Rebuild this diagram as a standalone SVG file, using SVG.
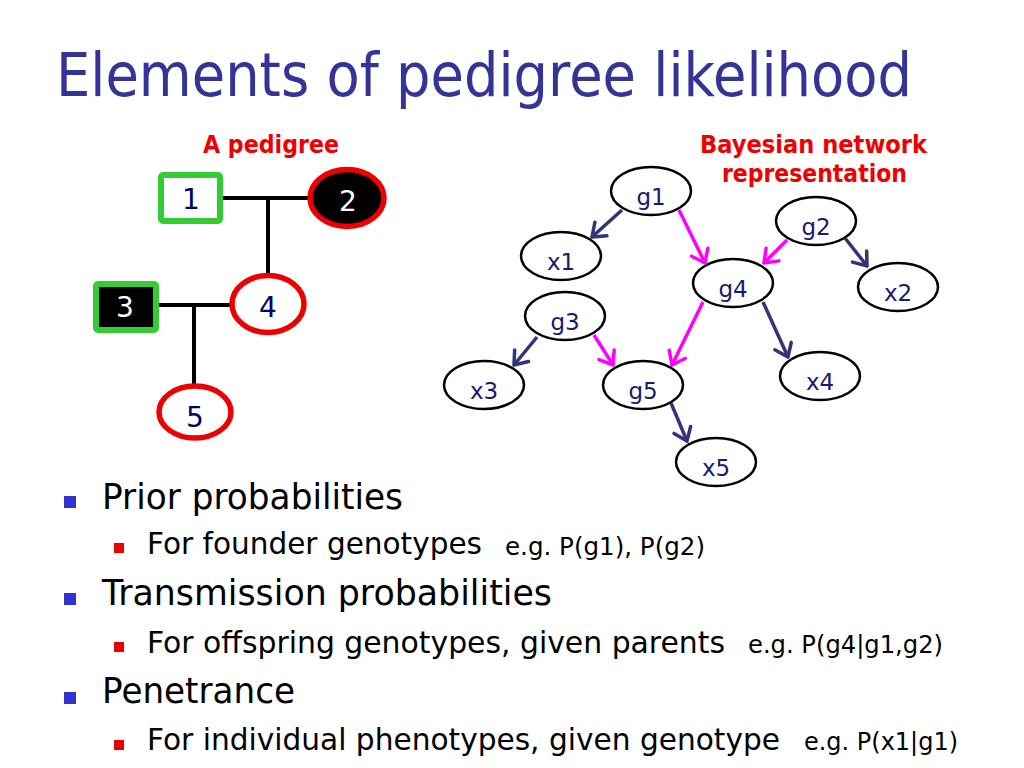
<svg xmlns="http://www.w3.org/2000/svg" width="1024" height="768" viewBox="0 0 1024 768">
<defs>
<style>
text{font-family:"DejaVu Sans","Liberation Sans",sans-serif}
.title{font-size:61px;fill:#333399}
.red{font-size:25px;font-weight:bold;fill:#ee0000}
.l1{font-size:35px;fill:#000}
.l2{font-size:31px;fill:#000}
.eg{font-size:24px;fill:#000}
.b1{fill:#3333cc}
.b2{fill:#ee0000}
.sq{stroke:#33cc33;stroke-width:6}
.pc{stroke:#ee0000;stroke-width:5.5}
.pl{stroke:#000;stroke-width:4;fill:none}
.pt{font-size:28px;text-anchor:middle}
.bn{fill:#fff;stroke:#000;stroke-width:2.5}
.bt{font-size:23px;fill:#1a1a70;text-anchor:middle}
.nv{stroke:#333377;stroke-width:3.5;fill:none;marker-end:url(#an)}
.mg{stroke:#ff00ff;stroke-width:3.5;fill:none;marker-end:url(#am)}
</style>
<marker id="an" viewBox="-15 -11 17 22" markerWidth="17" markerHeight="22" refX="0" refY="0" orient="auto" markerUnits="userSpaceOnUse"><path d="M-12,-9 L0,0 L-12,9" fill="none" stroke="#333377" stroke-width="3.5" stroke-linecap="round"/></marker>
<marker id="am" viewBox="-15 -11 17 22" markerWidth="17" markerHeight="22" refX="0" refY="0" orient="auto" markerUnits="userSpaceOnUse"><path d="M-12,-9 L0,0 L-12,9" fill="none" stroke="#ff00ff" stroke-width="3.5" stroke-linecap="round"/></marker>
</defs>
<rect width="1024" height="768" fill="#fff"/>
<text class="title" x="56" y="96" textLength="856" lengthAdjust="spacingAndGlyphs">Elements of pedigree likelihood</text>

<text class="red" x="203" y="153" textLength="136" lengthAdjust="spacingAndGlyphs">A pedigree</text>
<text class="red" x="700" y="153" textLength="227" lengthAdjust="spacingAndGlyphs">Bayesian network</text>
<text class="red" x="722" y="182" textLength="185" lengthAdjust="spacingAndGlyphs">representation</text>

<g id="pedigree-lines">
<path class="pl" d="M223,198 H310 M268,198 V273 M159,305 H231 M194,305 V385"/>
</g>
<g id="p1"><rect class="sq" x="161" y="175" width="59" height="46" rx="2" fill="#fff"/><text class="pt" x="191" y="209" fill="#000066">1</text></g>
<g id="p2"><ellipse class="pc" cx="347" cy="198" rx="37" ry="28.5" fill="#000"/><text class="pt" x="348" y="211" fill="#fff">2</text></g>
<g id="p3"><rect class="sq" x="96" y="284" width="60" height="46" rx="2" fill="#000"/><text class="pt" x="125" y="317" fill="#fff">3</text></g>
<g id="p4"><ellipse class="pc" cx="268" cy="304" rx="36" ry="28.5" fill="#fff"/><text class="pt" x="268" y="317" fill="#000066">4</text></g>
<g id="p5"><ellipse class="pc" cx="195" cy="412" rx="36" ry="26" fill="#fff"/><text class="pt" x="195" y="427" fill="#000066">5</text></g>

<g id="g1"><ellipse class="bn" cx="651" cy="191" rx="40" ry="24"/><text class="bt" x="651" y="205">g1</text></g>
<g id="g2"><ellipse class="bn" cx="816" cy="221" rx="40" ry="24"/><text class="bt" x="816" y="235">g2</text></g>
<g id="x1"><ellipse class="bn" cx="561" cy="256" rx="40" ry="24"/><text class="bt" x="561" y="270">x1</text></g>
<g id="g4"><ellipse class="bn" cx="733" cy="283" rx="40" ry="24"/><text class="bt" x="733" y="297">g4</text></g>
<g id="x2"><ellipse class="bn" cx="898" cy="287" rx="40" ry="24"/><text class="bt" x="898" y="301">x2</text></g>
<g id="g3"><ellipse class="bn" cx="565" cy="316" rx="40" ry="24"/><text class="bt" x="565" y="330">g3</text></g>
<g id="x3"><ellipse class="bn" cx="484" cy="385" rx="40" ry="24"/><text class="bt" x="484" y="399">x3</text></g>
<g id="g5"><ellipse class="bn" cx="643" cy="385" rx="40" ry="24"/><text class="bt" x="643" y="399">g5</text></g>
<g id="x4"><ellipse class="bn" cx="820" cy="376" rx="40" ry="24"/><text class="bt" x="820" y="390">x4</text></g>
<g id="x5"><ellipse class="bn" cx="716" cy="462" rx="40" ry="24"/><text class="bt" x="716" y="476">x5</text></g>

<g id="connectors">
<line class="nv" x1="622" y1="210" x2="592" y2="237"/>
<line class="mg" x1="679" y1="210" x2="705" y2="263"/>
<line class="mg" x1="787" y1="240" x2="764" y2="263"/>
<line class="nv" x1="845" y1="238" x2="867" y2="266"/>
<line class="mg" x1="703" y1="302" x2="672" y2="365"/>
<line class="nv" x1="763" y1="302" x2="788" y2="357"/>
<line class="nv" x1="537" y1="337" x2="514" y2="365"/>
<line class="mg" x1="594" y1="335" x2="613" y2="365"/>
<line class="nv" x1="671" y1="403" x2="687" y2="441"/>
</g>

<g id="bullets">
<rect class="b1" x="64" y="496" width="12" height="12"/>
<text class="l1" x="102" y="509" textLength="301" lengthAdjust="spacingAndGlyphs">Prior probabilities</text>
<rect class="b2" x="114" y="543" width="10" height="10"/>
<text class="l2" x="147" y="554" textLength="335" lengthAdjust="spacingAndGlyphs">For founder genotypes</text>
<text class="eg" x="505" y="555" textLength="200" lengthAdjust="spacingAndGlyphs">e.g. P(g1), P(g2)</text>
<rect class="b1" x="64" y="593" width="12" height="12"/>
<text class="l1" x="102" y="605" textLength="450" lengthAdjust="spacingAndGlyphs">Transmission probabilities</text>
<rect class="b2" x="114" y="642" width="10" height="10"/>
<text class="l2" x="147" y="653" textLength="578" lengthAdjust="spacingAndGlyphs">For offspring genotypes, given parents</text>
<text class="eg" x="748" y="653" textLength="195" lengthAdjust="spacingAndGlyphs">e.g. P(g4|g1,g2)</text>
<rect class="b1" x="64" y="692" width="12" height="12"/>
<text class="l1" x="102" y="703" textLength="193" lengthAdjust="spacingAndGlyphs">Penetrance</text>
<rect class="b2" x="114" y="740" width="10" height="10"/>
<text class="l2" x="147" y="750" textLength="633" lengthAdjust="spacingAndGlyphs">For individual phenotypes, given genotype</text>
<text class="eg" x="804" y="750" textLength="154" lengthAdjust="spacingAndGlyphs">e.g. P(x1|g1)</text>
</g>
</svg>
